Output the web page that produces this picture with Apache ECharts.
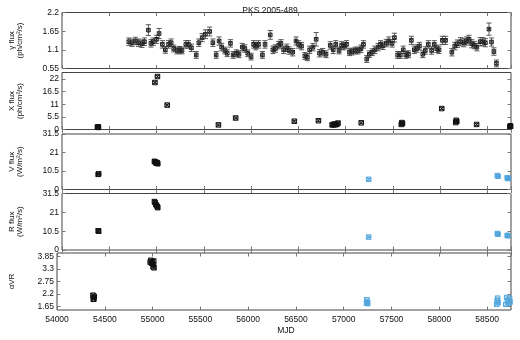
<!DOCTYPE html>
<html>
<head>
<meta charset="utf-8">
<script src="https://cdn.jsdelivr.net/npm/echarts@6/dist/echarts.min.js"></script>
<style>
html, body { margin: 0; padding: 0; background: #fff; }
#chart { width: 520px; height: 340px; }
</style>
</head>
<body>
<div id="chart"></div>
<script>
// gamma light curve (monthly bins)
var gammaMjd = [54707, 54741, 54776, 54810, 54845, 54872, 54914, 54941, 54965, 55000,
	55027, 55062, 55093, 55127, 55155, 55182, 55217, 55245, 55269, 55310,
	55338, 55369, 55420, 55448, 55483, 55517, 55562, 55596, 55631, 55662,
	55689, 55724, 55748, 55782, 55810, 55845, 55872, 55907, 55934, 55965,
	56000, 56027, 56051, 56079, 56120, 56148, 56203, 56231, 56258, 56293,
	56317, 56345, 56379, 56403, 56441, 56476, 56503, 56534, 56569, 56596,
	56620, 56655, 56689, 56724, 56758, 56793, 56838, 56869, 56896, 56931,
	56958, 56983, 57010, 57041, 57069, 57103, 57131, 57162, 57189, 57224,
	57251, 57282, 57310, 57345, 57369, 57396, 57431, 57458, 57493, 57517,
	57551, 57579, 57610, 57638, 57665, 57696, 57727, 57755, 57782, 57817,
	57844, 57875, 57910, 57938, 57965, 57989, 58024, 58058, 58124, 58155,
	58182, 58217, 58251, 58279, 58306, 58334, 58362, 58389, 58424, 58451,
	58479, 58517, 58544, 58569, 58596];
var gammaFlux = [1.34, 1.31, 1.36, 1.31, 1.28, 1.34, 1.68, 1.29, 1.34, 1.41,
	1.58, 1.26, 1.10, 1.26, 1.31, 1.14, 1.08, 1.10, 1.08, 1.26,
	1.26, 1.16, 0.95, 1.31, 1.46, 1.56, 1.64, 1.31, 0.95, 1.36,
	1.18, 1.08, 1.00, 1.29, 0.95, 1.00, 0.97, 1.18, 1.14, 1.00,
	0.90, 1.26, 1.21, 1.26, 0.95, 1.26, 1.54, 1.10, 1.14, 1.24,
	1.29, 1.10, 1.16, 1.08, 1.03, 1.36, 1.26, 1.21, 0.92, 0.88,
	1.10, 1.18, 1.41, 1.00, 1.03, 0.97, 1.23, 1.10, 1.26, 1.08,
	1.23, 1.21, 1.26, 1.03, 1.05, 1.08, 1.08, 1.13, 1.26, 0.83,
	0.97, 1.03, 1.10, 1.18, 1.26, 1.22, 1.30, 1.36, 1.29, 1.46,
	0.95, 0.95, 1.10, 0.95, 0.97, 1.38, 1.10, 1.14, 1.21, 0.97,
	1.08, 1.26, 1.08, 1.26, 1.13, 1.10, 1.38, 1.38, 1.03, 1.21,
	1.28, 1.34, 1.31, 1.36, 1.41, 1.28, 1.24, 1.18, 1.34, 1.34,
	1.31, 1.71, 1.33, 1.05, 0.70];
var gammaErr = [0.11, 0.11, 0.11, 0.11, 0.11, 0.11, 0.16, 0.11, 0.11, 0.12,
	0.15, 0.11, 0.10, 0.11, 0.11, 0.10, 0.10, 0.10, 0.10, 0.11,
	0.11, 0.11, 0.10, 0.11, 0.12, 0.13, 0.13, 0.11, 0.10, 0.12,
	0.11, 0.10, 0.10, 0.11, 0.10, 0.10, 0.10, 0.11, 0.11, 0.10,
	0.10, 0.11, 0.11, 0.11, 0.10, 0.11, 0.13, 0.11, 0.11, 0.11,
	0.11, 0.11, 0.11, 0.11, 0.11, 0.12, 0.11, 0.11, 0.10, 0.10,
	0.11, 0.11, 0.20, 0.11, 0.11, 0.10, 0.11, 0.11, 0.11, 0.10,
	0.11, 0.11, 0.11, 0.10, 0.10, 0.10, 0.10, 0.11, 0.11, 0.10,
	0.10, 0.10, 0.11, 0.11, 0.11, 0.11, 0.11, 0.12, 0.11, 0.13,
	0.10, 0.10, 0.11, 0.10, 0.10, 0.12, 0.11, 0.11, 0.11, 0.10,
	0.11, 0.11, 0.11, 0.11, 0.11, 0.11, 0.12, 0.12, 0.11, 0.11,
	0.11, 0.12, 0.12, 0.12, 0.12, 0.12, 0.11, 0.11, 0.12, 0.12,
	0.12, 0.18, 0.12, 0.11, 0.10];

// X-ray
var xrayMjd = [54375, 54381, 54386, 54983, 55010, 55113, 55655, 55837, 56458, 56713,
	56858, 56868, 56878, 56888, 56898, 56908, 56920, 57166, 57590, 57596,
	57602, 58017, 58165, 58170, 58176, 58386, 58738, 58743, 58746];
var xrayFlux = [1.0, 1.2, 0.9, 20.4, 23.0, 10.6, 2.0, 5.0, 3.6, 3.8,
	2.0, 2.2, 2.0, 2.4, 2.1, 2.3, 2.8, 2.9, 2.2, 3.0,
	2.6, 9.1, 3.0, 4.0, 3.5, 2.2, 1.2, 1.6, 1.4];

// optical V band (old = black, new = blue)
var vOldMjd = [54383, 54388, 54978, 54985, 54992, 55000, 55008, 55013];
var vOldFlux = [8.6, 8.9, 16.0, 15.7, 15.2, 14.9, 15.3, 14.6];
var vNewMjd = [57244, 58606, 58612, 58710, 58716, 58721];
var vNewFlux = [5.8, 7.9, 7.5, 6.6, 6.2, 6.4];

// optical R band
var rOldMjd = [54383, 54388, 54978, 54985, 54992, 55000, 55008, 55013];
var rOldFlux = [10.7, 10.5, 27.0, 26.4, 25.5, 24.8, 24.2, 23.6];
var rNewMjd = [57244, 58606, 58612, 58710, 58716];
var rNewFlux = [7.2, 9.2, 8.8, 8.2, 7.9];

// spectral index alpha VR
var aOldMjd = [54376, 54380, 54383, 54386, 54390, 54975, 54982, 54990, 54998, 55005, 55010, 55015, 55012];
var aOldVal = [2.15, 1.97, 2.05, 1.98, 2.10, 3.60, 3.68, 3.55, 3.62, 3.40, 3.50, 3.35, 3.65];
var aNewMjd = [57238, 57242, 57248, 57250, 58600, 58605, 58610, 58615, 58695, 58705, 58715, 58725, 58735, 58740];
var aNewVal = [1.80, 1.95, 1.85, 1.78, 1.75, 1.90, 2.02, 1.82, 1.75, 2.05, 1.90, 1.80, 2.02, 1.85];

// axis ticks
var yTicks = [[0.55, 1.1, 1.65, 2.2], [0, 5.5, 11, 16.5, 22], [0, 10.5, 21, 31.5], [0, 10.5, 21, 31.5], [1.65, 2.2, 2.75, 3.3, 3.85]];
var yNames = ['γ flux\n(ph/cm²/s)', 'X flux\n(ph/cm²/s)', 'V flux\n(W/m²/s)', 'R flux\n(W/m²/s)', 'αVR'];

var BLACK = '#111';
var BLUE = '#52a8e0';
var FONT = 'Liberation Sans';

// panels layout
var panelTop = [12.5, 72.5, 134, 193.5, 253];
var panelHeight = [56, 57, 55.5, 56.5, 57];
var yMin = [0.55, 0, 0, 0, 1.5];
var yMax = [2.2, 24.75, 31.5, 31.5, 4.0];

function zip(mjd, val, err){
	var out = [];
	for (var i = 0; i < mjd.length; i++) {
		var e = err ? (typeof err === 'number' ? err : err[i]) : 0;
		out.push([mjd[i], val[i], val[i] - e, val[i] + e]);
	}
	return out;
}

//误差棒
function errorBars(data, idx, color){
	return {
		type: 'custom',
		xAxisIndex: idx * 2,
		yAxisIndex: idx * 2,
		silent: true,
		clip: true,
		data: data,
		renderItem: function(params, api){
			var x = api.value(0);
			var lo = api.coord([x, api.value(2)]);
			var hi = api.coord([x, api.value(3)]);
			var st = { stroke: color, lineWidth: 0.8 };
			return {
				type: 'group',
				children: [
					{ type: 'line', shape: { x1: lo[0], y1: lo[1], x2: hi[0], y2: hi[1] }, style: st },
					{ type: 'line', shape: { x1: lo[0] - 2.6, y1: lo[1], x2: lo[0] + 2.6, y2: lo[1] }, style: st },
					{ type: 'line', shape: { x1: hi[0] - 2.6, y1: hi[1], x2: hi[0] + 2.6, y2: hi[1] }, style: st }
				]
			};
		}
	};
}

function markers(data, idx, color, size){
	return {
		type: 'scatter',
		xAxisIndex: idx * 2,
		yAxisIndex: idx * 2,
		silent: true,
		symbol: 'path://M0 0H10V10H0ZM0 0L10 10M10 0L0 10',
		symbolSize: size || 4.5,
		itemStyle: { color: 'rgba(0,0,0,0.05)', borderColor: color, borderWidth: 1, opacity: 1 },
		data: data
	};
}

var grids = [], xAxes = [], yAxes = [];
for (var i = 0; i < 5; i++) {
	var last = (i === 4);
	grids.push({ left: 51.7, right: 9, top: panelTop[i], height: panelHeight[i], show: true, borderColor: '#444', borderWidth: 1, backgroundColor: 'transparent' });
	['bottom', 'top'].forEach(function(pos){
		xAxes.push({
			type: 'value', gridIndex: i, position: pos,
			min: 54000, max: 58750, interval: 500,
			name: (last && pos === 'bottom') ? 'MJD' : '',
			nameLocation: 'middle', nameGap: 16,
			nameTextStyle: { fontFamily: FONT, fontSize: 8.5, color: BLACK, padding: [0, 0, 0, 4] },
			axisLine: { show: false },
			axisTick: { inside: true, length: 3.5, lineStyle: { color: '#777' } },
			axisLabel: {
				show: last && pos === 'bottom', showMaxLabel: false, margin: 5,
				fontFamily: FONT, fontSize: 8.5, color: BLACK,
				formatter: function(v){ return String(v); }
			},
			splitLine: { show: false }
		});
	});
	['left', 'right'].forEach(function(pos){
		var twoLine = yNames[i].indexOf('\n') >= 0;
		yAxes.push({
			type: 'value', gridIndex: i, position: pos,
			min: yMin[i], max: yMax[i],
			name: pos === 'left' ? yNames[i] : '',
			nameLocation: 'middle', nameRotate: 90,
			nameGap: twoLine ? 38 : 41,
			nameTextStyle: { fontFamily: FONT, fontSize: 8, lineHeight: 8, color: BLACK },
			axisLine: { show: false },
			axisTick: { inside: true, length: 3.5, customValues: yTicks[i], lineStyle: { color: '#777' } },
			axisLabel: { show: pos === 'left', customValues: yTicks[i], margin: 3, fontFamily: FONT, fontSize: 8.5, color: BLACK },
			splitLine: { show: false }
		});
	});
}

var series = [];
// gamma
var gData = zip(gammaMjd, gammaFlux, gammaErr);
series.push(errorBars(gData, 0, '#333'));
series.push(markers(gData, 0, '#222', 3.6));
// X-ray
var xData = zip(xrayMjd, xrayFlux, 0.4);
series.push(errorBars(xData, 1, '#333'));
series.push(markers(xData, 1, BLACK, 4.5));
// V
series.push(errorBars(zip(vOldMjd, vOldFlux, 0.4), 2, '#333'));
series.push(markers(zip(vOldMjd, vOldFlux), 2, BLACK, 4.5));
series.push(errorBars(zip(vNewMjd, vNewFlux, 0.5), 2, BLUE));
series.push(markers(zip(vNewMjd, vNewFlux), 2, BLUE, 4.5));
// R
series.push(errorBars(zip(rOldMjd, rOldFlux, 0.9), 3, '#333'));
series.push(markers(zip(rOldMjd, rOldFlux), 3, BLACK, 4.5));
series.push(errorBars(zip(rNewMjd, rNewFlux, 0.5), 3, BLUE));
series.push(markers(zip(rNewMjd, rNewFlux), 3, BLUE, 4.5));
// alpha VR
series.push(markers(zip(aOldMjd, aOldVal), 4, BLACK, 4.5));
series.push(markers(zip(aNewMjd, aNewVal), 4, BLUE, 4.5));

var chart = echarts.init(document.getElementById('chart'), null, { renderer: 'canvas' });
chart.setOption({
	animation: false,
	backgroundColor: '#fff',
	title: {
		text: 'PKS 2005-489',
		left: 265, top: 1, textAlign: 'center',
		textStyle: { fontFamily: FONT, fontSize: 8.5, fontWeight: 'normal', color: BLACK }
	},
	grid: grids,
	xAxis: xAxes,
	yAxis: yAxes,
	series: series
});
</script>
</body>
</html>
